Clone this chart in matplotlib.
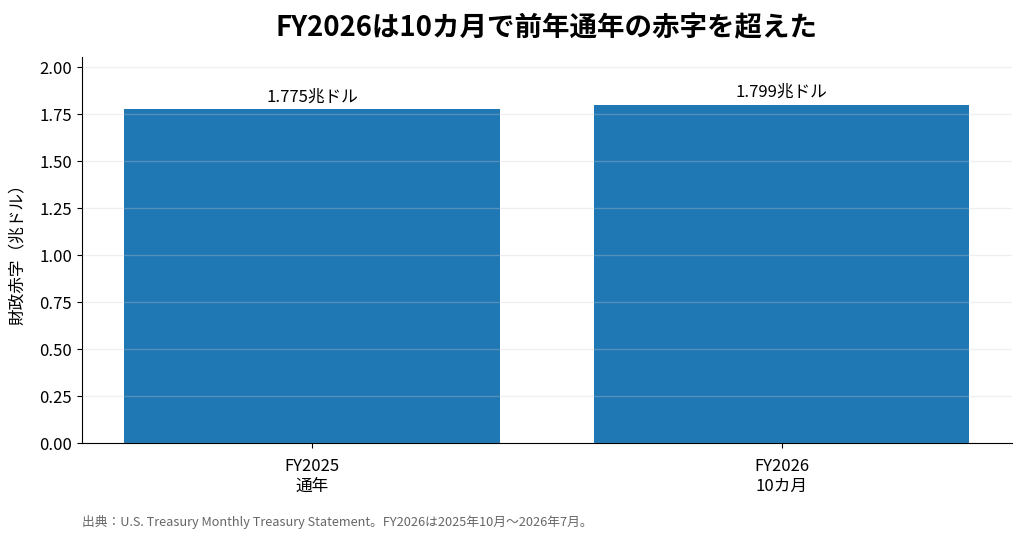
import matplotlib
matplotlib.use('Agg')
import matplotlib.pyplot as plt

plt.rcParams['font.family'] = ['Noto Sans CJK JP', 'DejaVu Sans']

categories = ['FY2025\n通年', 'FY2026\n10カ月']
deficits = [1.775, 1.799]
bar_labels = ['1.775兆ドル', '1.799兆ドル']
yticks = [0.0, 0.25, 0.5, 0.75, 1.0, 1.25, 1.5, 1.75, 2.0]

fig, ax = plt.subplots(figsize=(10.24, 5.44), dpi=100)
fig.subplots_adjust(left=0.08, right=0.988, top=0.895, bottom=0.185)

bars = ax.bar(range(len(categories)), deficits, width=0.8, color='#1f77b4')
for b, lab in zip(bars, bar_labels):
    ax.text(b.get_x() + b.get_width() / 2, b.get_height() + 0.02, lab,
            ha='center', va='bottom', fontsize=12)

ax.set_xticks(range(len(categories)))
ax.set_xticklabels(categories, fontsize=12)
ax.tick_params(axis='x', pad=7)
ax.set_yticks(yticks)
ax.set_yticklabels([f'{v:.2f}' for v in yticks], fontsize=12)
ax.set_ylim(0, 2.053)
ax.set_ylabel('財政赤字（兆ドル）', fontsize=12, labelpad=10)

ax.grid(axis='y', color='#cccccc', alpha=0.3, linewidth=1)
ax.set_axisbelow(False)
ax.spines['top'].set_visible(False)
ax.spines['right'].set_visible(False)

ax.set_title('FY2026は10カ月で前年通年の赤字を超えた', fontsize=19.8,
             fontweight='bold', pad=15)
fig.text(0.08, 0.027, '出典：U.S. Treasury Monthly Treasury Statement。FY2026は2025年10月～2026年7月。',
         fontsize=9.2, color='#666666', ha='left', va='bottom')

fig.savefig('out.png', dpi=100)
